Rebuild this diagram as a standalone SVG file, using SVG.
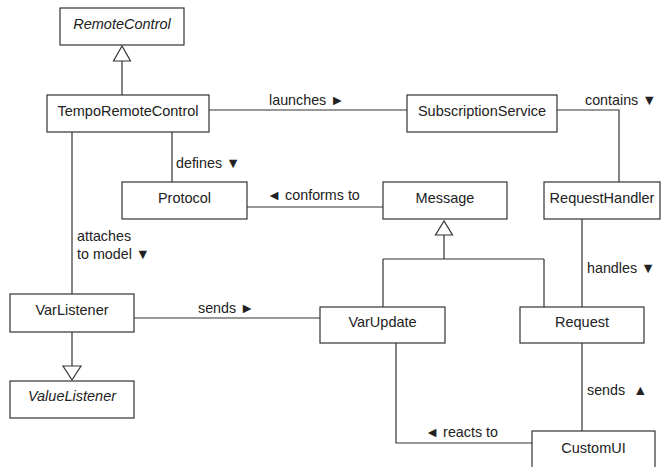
<svg xmlns="http://www.w3.org/2000/svg" width="667" height="467" viewBox="0 0 667 467">
<style>
.box{fill:#fff;stroke:#333;stroke-width:1.2}
.t{font-family:"Liberation Sans",Arial,sans-serif;font-size:14.5px;fill:#222;text-anchor:middle}
.i{font-style:italic}
.l{font-family:"Liberation Sans",Arial,sans-serif;font-size:14.3px;fill:#222}
.c{fill:none;stroke:#333;stroke-width:1.2}
.tri{fill:#fff;stroke:#333;stroke-width:1.2}
</style>
<rect width="667" height="467" fill="#fff"/>
<g id="connectors">
<path class="c" d="M122,61 V95"/>
<polygon class="tri" points="122,46 113.5,61 130.5,61"/>
<path class="c" d="M209,110 H407"/>
<path class="c" d="M557,110 H619 V182"/>
<path class="c" d="M172,132 V182"/>
<path class="c" d="M72,132 V294"/>
<path class="c" d="M247,207 H383"/>
<path class="c" d="M444,235 V259 M383,259 H544 M383,259 V307 M544,259 V307"/>
<polygon class="tri" points="444,221 435.5,235 452.5,235"/>
<path class="c" d="M582,219 V307"/>
<path class="c" d="M134,318 H320"/>
<path class="c" d="M72,332 V366"/>
<polygon class="tri" points="63,366 81,366 72,380"/>
<path class="c" d="M396,343 V443 H532"/>
<path class="c" d="M582,343 V431"/>
<text class="l" x="269" y="105">launches ►</text>
<text class="l" x="585" y="105">contains ▼</text>
<text class="l" x="176" y="168">defines ▼</text>
<text class="l" x="77" y="241">attaches</text>
<text class="l" x="77" y="259">to model ▼</text>
<text class="l" x="267" y="200">◄ conforms to</text>
<text class="l" x="587" y="273">handles ▼</text>
<text class="l" x="198" y="313">sends ►</text>
<text class="l" x="425" y="437">◄ reacts to</text>
<text class="l" x="587" y="395">sends <tspan dx="4">▲</tspan></text>
</g>
<g id="RemoteControl"><rect class="box" x="60" y="8" width="124" height="37"/><text class="t i" x="122" y="29">RemoteControl</text></g>
<g id="TempoRemoteControl"><rect class="box" x="47" y="95" width="162" height="37"/><text class="t" x="128" y="116">TempoRemoteControl</text></g>
<g id="SubscriptionService"><rect class="box" x="407" y="95" width="150" height="37"/><text class="t" x="482" y="116">SubscriptionService</text></g>
<g id="Protocol"><rect class="box" x="122" y="182" width="125" height="37"/><text class="t" x="184.5" y="203">Protocol</text></g>
<g id="Message"><rect class="box" x="383" y="182" width="124" height="37"/><text class="t" x="445" y="203">Message</text></g>
<g id="RequestHandler"><rect class="box" x="544" y="182" width="116" height="37"/><text class="t" x="602" y="203">RequestHandler</text></g>
<g id="VarListener"><rect class="box" x="10" y="294" width="124" height="38"/><text class="t" x="72" y="315">VarListener</text></g>
<g id="VarUpdate"><rect class="box" x="320" y="307" width="125" height="36"/><text class="t" x="382.5" y="327">VarUpdate</text></g>
<g id="Request"><rect class="box" x="520" y="307" width="124" height="36"/><text class="t" x="582" y="327">Request</text></g>
<g id="ValueListener"><rect class="box" x="10" y="381" width="124" height="37"/><text class="t i" x="72" y="401">ValueListener</text></g>
<g id="CustomUI"><rect class="box" x="532" y="431" width="123" height="40"/><text class="t" x="593.5" y="453">CustomUI</text></g>
</svg>
